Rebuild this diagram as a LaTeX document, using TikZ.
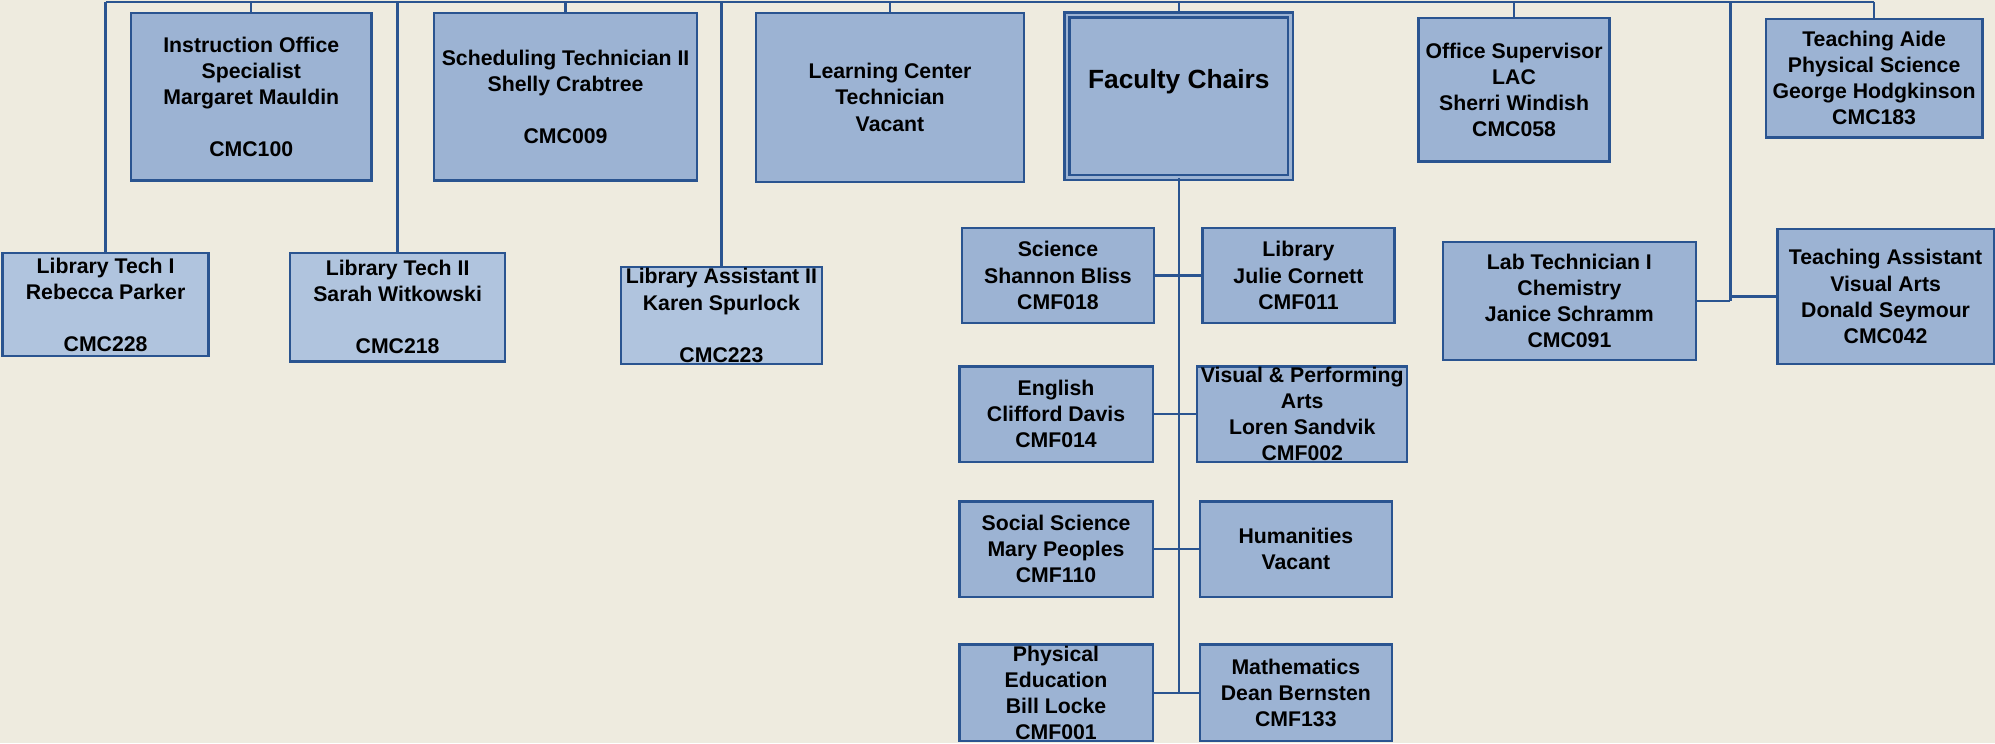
\documentclass[tikz,border=0pt]{standalone}
\usepackage{fontspec}
\setmainfont{Liberation Sans}
\usetikzlibrary{positioning}
\definecolor{chartbg}{RGB}{238,235,223}
\definecolor{chartfill}{RGB}{156,179,211}
\definecolor{chartlight}{RGB}{176,196,222}
\definecolor{chartline}{RGB}{42,84,144}
\begin{document}
\begin{tikzpicture}[x=1pt,y=-1pt]
\tikzstyle{every node}+=[inner sep=0pt, align=center, font=\fontsize{16.7}{20.5}\selectfont\bfseries]
\tikzstyle{post}=[draw=chartline, line width=1.9pt, fill=chartfill]
\tikzstyle{lightpost}=[post, fill=chartlight]
\tikzstyle{link}=[draw=chartline, line width=1.8pt]
\fill [chartbg] (0,0) rectangle (1568,584);
\coordinate (bus) at (0,1.5);
\coordinate (rj) at (1360,236.5);
\node [post, minimum width=189, minimum height=132] (ios) at (197.5,76) {Instruction Office\\Specialist\\Margaret Mauldin\\[20.5pt]CMC100};
\node [post, minimum width=207, minimum height=132] (sched) at (444.5,76) {Scheduling Technician II\\Shelly Crabtree\\[20.5pt]CMC009};
\node [post, minimum width=211, minimum height=133] (lct) at (699.5,76.5) {Learning Center\\Technician\\Vacant};
\node [post, double=chartfill, double distance=2pt, minimum width=175.6, minimum height=127.6] (fc) at (926.5,75.5) {};
\node [font=\fontsize{20.7}{24}\selectfont\bfseries] (fctitle) at (926.5,64) {Faculty Chairs};
\node [post, minimum width=150, minimum height=113] (os) at (1190,70.5) {Office Supervisor\\LAC\\Sherri Windish\\CMC058};
\node [post, minimum width=170, minimum height=93] (taide) at (1473,61.5) {Teaching Aide\\Physical Science\\George Hodgkinson\\CMC183};
\node [lightpost, minimum width=162, minimum height=81] (lt1) at (83,239.5) {Library Tech I\\Rebecca Parker\\[20.5pt]CMC228};
\node [lightpost, minimum width=169, minimum height=85] (lt2) at (312.5,241.5) {Library Tech II\\Sarah Witkowski\\[20.5pt]CMC218};
\node [lightpost, minimum width=158, minimum height=76] (la2) at (567,248) {Library Assistant II\\Karen Spurlock\\[20.5pt]CMC223};
\node [post, minimum width=151, minimum height=75] (sci) at (831.5,216.5) {Science\\Shannon Bliss\\CMF018};
\node [post, minimum width=151, minimum height=75] (libr) at (1020.5,216.5) {Library\\Julie Cornett\\CMF011};
\node [post, minimum width=152, minimum height=75] (eng) at (830,325.5) {English\\Clifford Davis\\CMF014};
\node [post, minimum width=165, minimum height=75] (vpa) at (1023.5,325.5) {Visual \& Performing\\Arts\\Loren Sandvik\\CMF002};
\node [post, minimum width=152, minimum height=75] (ss) at (830,431.5) {Social Science\\Mary Peoples\\CMF110};
\node [post, minimum width=151, minimum height=75] (hum) at (1018.5,431.5) {Humanities\\Vacant};
\node [post, minimum width=152, minimum height=76] (pe) at (830,544.5) {Physical\\Education\\Bill Locke\\CMF001};
\node [post, minimum width=151, minimum height=76] (math) at (1018.5,544.5) {Mathematics\\Dean Bernsten\\CMF133};
\node [post, minimum width=199, minimum height=93] (labt) at (1233.5,236.5) {Lab Technician I\\Chemistry\\Janice Schramm\\CMC091};
\node [post, minimum width=170, minimum height=106] (tasst) at (1482,233) {Teaching Assistant\\Visual Arts\\Donald Seymour\\CMC042};
\draw [link] (lt1.north |- bus) -- (taide.north |- bus);
\foreach \n in {lt1,ios,lt2,sched,la2,lct,fc,os,taide}
  \draw [link] (\n.north) -- (\n.north |- bus);
\draw [link] (rj |- bus) -- (rj);
\draw [link] (labt.east) -- (rj);
\draw [link] (tasst.west) -- (tasst.west -| rj);
\draw [link] (fc.south) -- (fc.south |- pe.east);
\foreach \a/\b in {sci/libr,eng/vpa,ss/hum,pe/math}
  \draw [link] (\a.east) -- (\b.west);
\end{tikzpicture}
\end{document}
